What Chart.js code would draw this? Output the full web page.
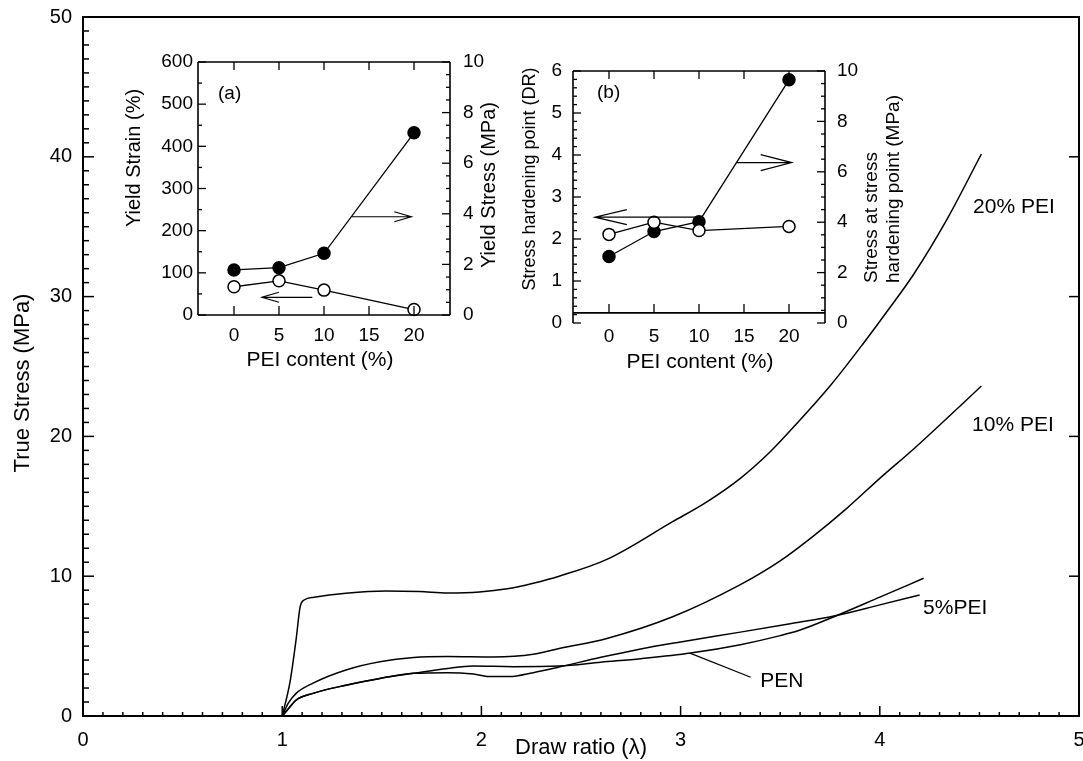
<!DOCTYPE html>
<html>
<head>
<meta charset="utf-8">
<script src="https://cdn.jsdelivr.net/npm/chart.js@4.4.0/dist/chart.umd.min.js"></script>
<style>
  body { margin: 0; background: #fff; }
  #wrap { position: relative; width: 1083px; height: 761px; }
  canvas { position: absolute; }
</style>
</head>
<body>
<div id="wrap">
  <canvas id="mainChart" width="1083" height="761" style="left:0;top:0;width:1083px;height:761px"></canvas>
  <canvas id="insetA" width="420" height="340" style="left:100px;top:40px;width:420px;height:340px"></canvas>
  <canvas id="insetB" width="420" height="340" style="left:510px;top:40px;width:420px;height:340px"></canvas>
</div>
<script>
var FONT = '"Liberation Sans", Arial, Helvetica, sans-serif';

// main chart: true stress vs draw ratio
var xTicks = [0, 1, 2, 3, 4, 5];
var yTicks = [0, 10, 20, 30, 40, 50];

var dr20 = [1.0, 1.04, 1.07, 1.09, 1.11, 1.16, 1.32, 1.52, 1.69, 1.83, 1.99, 2.13, 2.26, 2.39, 2.63, 2.96, 3.13, 3.30, 3.45, 3.55, 3.75, 3.92, 4.05, 4.17, 4.34, 4.51];
var st20 = [0, 2.5, 5.5, 7.8, 8.3, 8.5, 8.78, 8.94, 8.9, 8.8, 8.87, 9.1, 9.5, 10.0, 11.2, 13.9, 15.3, 17.0, 18.9, 20.4, 23.6, 26.7, 29.2, 31.6, 35.6, 40.2];

var dr10 = [1.0, 1.03, 1.07, 1.155, 1.32, 1.49, 1.66, 1.83, 2.06, 2.26, 2.39, 2.63, 2.96, 3.30, 3.5, 3.66, 3.83, 4.0, 4.17, 4.27, 4.51];
var st10 = [0, 0.9, 1.62, 2.35, 3.29, 3.88, 4.19, 4.26, 4.22, 4.41, 4.83, 5.55, 7.1, 9.4, 11.1, 12.8, 14.8, 17.0, 19.1, 20.4, 23.6];

var dr5 = [1.0, 1.03, 1.07, 1.155, 1.32, 1.49, 1.66, 1.83, 1.96, 2.04, 2.14, 2.26, 2.39, 2.6, 2.8, 3.0, 3.3, 3.55, 3.77, 4.0, 4.2];
var st5 = [0, 0.5, 1.14, 1.62, 2.2, 2.69, 3.05, 3.1, 3.0, 2.82, 2.82, 3.1, 3.5, 4.2, 4.8, 5.3, 6.0, 6.6, 7.15, 7.95, 8.66];

var drPen = [1.0, 1.03, 1.07, 1.155, 1.32, 1.49, 1.66, 1.83, 1.96, 2.16, 2.39, 2.6, 2.8, 3.05, 3.3, 3.5, 3.6, 3.77, 4.0, 4.22];
var stPen = [0, 0.5, 1.14, 1.62, 2.2, 2.69, 3.05, 3.4, 3.57, 3.53, 3.57, 3.85, 4.1, 4.5, 5.1, 5.75, 6.15, 7.1, 8.5, 9.85];

// insets
var peiTicks = [0, 5, 10, 15, 20];
var strainTicks = [0, 100, 200, 300, 400, 500, 600];
var yStressTicks = [0, 2, 4, 6, 8, 10];
var drTicks = [0, 1, 2, 3, 4, 5, 6];
var hStressTicks = [0, 2, 4, 6, 8, 10];

var peiContent = [0, 5, 10, 20];
var yieldStrain = [67, 81, 59, 13];
var yieldStress = [1.78, 1.87, 2.44, 7.2];
var hardeningDR = [2.11, 2.4, 2.2, 2.3];
var hardeningStress = [2.64, 3.63, 4.02, 9.65];

function pts(xs, ys) {
  return xs.map(function (v, i) { return { x: v, y: ys[i] }; });
}

function curve(label, xs, ys) {
  return {
    label: label,
    data: pts(xs, ys),
    borderColor: '#000',
    borderWidth: 1.5,
    pointRadius: 0,
    fill: false,
    cubicInterpolationMode: 'monotone'
  };
}

function fixTicks(list) {
  return function (s) { s.ticks = list.map(function (v) { return { value: v }; }); };
}

function line(ctx, x1, y1, x2, y2) {
  ctx.beginPath();
  ctx.moveTo(x1, y1);
  ctx.lineTo(x2, y2);
  ctx.stroke();
}

function arrow(ctx, x1, y, x2, headLen, headHalf) {
  var dir = x2 > x1 ? -1 : 1;
  ctx.beginPath();
  ctx.moveTo(x1, y);
  ctx.lineTo(x2, y);
  ctx.moveTo(x2 + dir * headLen, y - headHalf);
  ctx.lineTo(x2, y);
  ctx.lineTo(x2 + dir * headLen, y + headHalf);
  ctx.stroke();
}

function rotText(ctx, txt, x, y, size, align) {
  ctx.save();
  ctx.translate(x, y);
  ctx.rotate(-Math.PI / 2);
  ctx.font = size + 'px ' + FONT;
  ctx.textAlign = align || 'center';
  ctx.textBaseline = 'middle';
  ctx.fillText(txt, 0, 0);
  ctx.restore();
}

function text(ctx, txt, x, y, size, align) {
  ctx.font = size + 'px ' + FONT;
  ctx.textAlign = align || 'left';
  ctx.textBaseline = 'middle';
  ctx.fillText(txt, x, y);
}

var mainDecor = {
  id: 'mainDecor',
  afterDraw: function (chart) {
    var ctx = chart.ctx, a = chart.chartArea, sx = chart.scales.x, sy = chart.scales.y;
    ctx.save();
    ctx.strokeStyle = '#000';
    ctx.fillStyle = '#000';
    ctx.lineWidth = 2;
    ctx.strokeRect(a.left, a.top, a.right - a.left, a.bottom - a.top);
    ctx.lineWidth = 1.5;
    var i, p;
    for (i = 0; i <= 50; i++) {
      p = sx.getPixelForValue(i / 10);
      line(ctx, p, a.bottom, p, a.bottom - (i % 10 === 0 ? 10 : 4));
    }
    for (i = 0; i <= 50; i++) {
      p = sy.getPixelForValue(i);
      line(ctx, a.left, p, a.left + (i % 10 === 0 ? 11 : 6), p);
    }
    for (i = 10; i <= 40; i += 10) {
      p = sy.getPixelForValue(i);
      line(ctx, a.right, p, a.right - 10, p);
    }
    // curve labels
    text(ctx, '20% PEI', sx.getPixelForValue(4.468), sy.getPixelForValue(36.4), 21);
    text(ctx, '10% PEI', sx.getPixelForValue(4.463), sy.getPixelForValue(20.8), 21);
    text(ctx, '5%PEI', sx.getPixelForValue(4.217), sy.getPixelForValue(7.73), 21);
    text(ctx, 'PEN', sx.getPixelForValue(3.40), sy.getPixelForValue(2.5), 21);
    ctx.lineWidth = 1.2;
    line(ctx, sx.getPixelForValue(3.047), sy.getPixelForValue(4.5), sx.getPixelForValue(3.352), sy.getPixelForValue(2.77));
    rotText(ctx, 'True Stress (MPa)', 23, 383, 22);
    ctx.restore();
  }
};

new Chart(document.getElementById('mainChart'), {
  type: 'line',
  data: {
    datasets: [
      curve('20% PEI', dr20, st20),
      curve('10% PEI', dr10, st10),
      curve('5%PEI', dr5, st5),
      curve('PEN', drPen, stPen)
    ]
  },
  options: {
    responsive: false,
    animation: false,
    layout: { padding: { left: 0, right: 4, top: 17, bottom: 0 } },
    plugins: { legend: { display: false }, tooltip: { enabled: false } },
    scales: {
      x: {
        type: 'linear', min: 0, max: 5,
        afterBuildTicks: fixTicks(xTicks),
        afterFit: function (s) { s.height = 45; s.paddingLeft = 0; s.paddingRight = 0; },
        grid: { display: false, drawTicks: false },
        border: { display: false },
        ticks: { color: '#000', padding: 12, font: { family: FONT, size: 20 } },
        title: { display: true, text: 'Draw ratio (λ)', color: '#000', font: { family: FONT, size: 22 }, padding: { top: 0, bottom: 0 } }
      },
      y: {
        type: 'linear', min: 0, max: 50,
        afterBuildTicks: fixTicks(yTicks),
        afterFit: function (s) { s.width = 83; s.paddingTop = 0; s.paddingBottom = 0; },
        grid: { display: false, drawTicks: false },
        border: { display: false },
        ticks: { color: '#000', padding: 11, font: { family: FONT, size: 20 } }
      }
    }
  },
  plugins: [mainDecor]
});

// ---- insets ----
function insetDecor(cfg) {
  return {
    id: 'insetDecor',
    afterDraw: function (chart) {
      var ctx = chart.ctx, a = chart.chartArea;
      var sx = chart.scales.x, yl = chart.scales.yL, yr = chart.scales.yR;
      ctx.save();
      ctx.strokeStyle = '#000';
      ctx.fillStyle = '#000';
      ctx.lineWidth = 1.6;
      var base = yl.getPixelForValue(cfg.baseLine);
      line(ctx, a.left, a.top, a.right, a.top);
      line(ctx, a.left, a.top, a.left, a.bottom);
      line(ctx, a.right, a.top, a.right, a.bottom);
      line(ctx, a.left, base, a.right, base);
      ctx.lineWidth = 1.3;
      var i, v, p;
      for (i = 0; i * cfg.leftMinor <= cfg.leftMax + 1e-9; i++) {
        v = i * cfg.leftMinor;
        p = yl.getPixelForValue(v);
        var maj = Math.abs(v / cfg.leftMajor - Math.round(v / cfg.leftMajor)) < 1e-6;
        line(ctx, a.left, p, a.left + (maj ? 8 : 4), p);
      }
      for (i = 0; i * cfg.rightMinor <= cfg.rightMax + 1e-9; i++) {
        v = i * cfg.rightMinor;
        p = yr.getPixelForValue(v);
        var majR = Math.abs(v / cfg.rightMajor - Math.round(v / cfg.rightMajor)) < 1e-6;
        line(ctx, a.right, p, a.right - (majR ? 8 : 4), p);
      }
      peiTicks.forEach(function (t) {
        p = sx.getPixelForValue(t);
        line(ctx, p, a.top, p, a.top + 8);
        line(ctx, p, base, p, base - 9);
      });
      ctx.lineWidth = 1.2;
      cfg.arrows.forEach(function (ar) {
        var sc = ar.axis === 'R' ? yr : yl;
        arrow(ctx, sx.getPixelForValue(ar.from), sc.getPixelForValue(ar.y), sx.getPixelForValue(ar.to), ar.head[0], ar.head[1]);
      });
      text(ctx, cfg.tag, cfg.tagPos[0], cfg.tagPos[1], 19);
      cfg.titles.forEach(function (t) {
        if (t.rot) rotText(ctx, t.text, t.x, t.y, t.size, t.align);
        else text(ctx, t.text, t.x, t.y, t.size, 'center');
      });
      ctx.restore();
    }
  };
}

function markers(data, axis, filled) {
  return {
    data: data,
    yAxisID: axis,
    borderColor: '#000',
    borderWidth: 1.3,
    pointRadius: 6,
    pointBorderWidth: 1.5,
    pointBorderColor: '#000',
    pointBackgroundColor: filled ? '#000' : '#fff',
    tension: 0,
    fill: false,
    clip: false
  };
}

function insetScale(ticks, min, max, pos, width, pad) {
  return {
    type: 'linear', position: pos, min: min, max: max,
    afterBuildTicks: fixTicks(ticks),
    afterFit: function (s) { s.width = width; s.paddingTop = 0; s.paddingBottom = 0; },
    grid: { display: false, drawTicks: false },
    border: { display: false },
    ticks: { color: '#000', padding: pad, font: { family: FONT, size: 19 } }
  };
}

function xInset(pad, height) {
  return {
    type: 'linear', min: -4, max: 24,
    afterBuildTicks: fixTicks(peiTicks),
    afterFit: function (s) { s.height = height; s.paddingLeft = 0; s.paddingRight = 0; },
    grid: { display: false, drawTicks: false },
    border: { display: false },
    ticks: { color: '#000', padding: pad, font: { family: FONT, size: 19 } }
  };
}

// inset (a): chart area page x 198..450, y 62..315
new Chart(document.getElementById('insetA'), {
  type: 'line',
  data: {
    datasets: [
      markers(pts(peiContent, yieldStrain), 'yL', false),
      markers(pts(peiContent, yieldStress), 'yR', true)
    ]
  },
  options: {
    responsive: false,
    animation: false,
    layout: { padding: { left: 0, right: 0, top: 22, bottom: 0 } },
    plugins: { legend: { display: false }, tooltip: { enabled: false } },
    scales: {
      x: xInset(9, 65),
      yL: insetScale(strainTicks, 0, 600, 'left', 98, 5),
      yR: insetScale(yStressTicks, 0, 10, 'right', 70, 13)
    }
  },
  plugins: [insetDecor({
    baseLine: 0,
    leftMax: 600, leftMinor: 50, leftMajor: 100,
    rightMax: 10, rightMinor: 0.5, rightMajor: 2,
    arrows: [
      { axis: 'L', y: 233, from: 13.1, to: 19.7, head: [17, 5] },
      { axis: 'L', y: 42, from: 8.7, to: 3.1, head: [17, 5] }
    ],
    tag: '(a)', tagPos: [118, 54],
    titles: [
      { text: 'Yield Strain (%)', x: 34, y: 118, size: 20, rot: true },
      { text: 'Yield Stress (MPa)', x: 389, y: 145, size: 20, rot: true },
      { text: 'PEI content (%)', x: 220, y: 320, size: 21 }
    ]
  })]
});

// inset (b): chart area page x 573..825, y 71..323
new Chart(document.getElementById('insetB'), {
  type: 'line',
  data: {
    datasets: [
      markers(pts(peiContent, hardeningDR), 'yL', false),
      markers(pts(peiContent, hardeningStress), 'yR', true)
    ]
  },
  options: {
    responsive: false,
    animation: false,
    layout: { padding: { left: 0, right: 0, top: 31, bottom: 0 } },
    plugins: { legend: { display: false }, tooltip: { enabled: false } },
    scales: {
      x: xInset(2, 57),
      yL: insetScale(drTicks, 0, 6, 'left', 63, 11),
      yR: insetScale(hStressTicks, 0, 10, 'right', 105, 12)
    }
  },
  plugins: [insetDecor({
    baseLine: 0.24,
    leftMax: 6, leftMinor: 0.2, leftMajor: 1,
    rightMax: 10, rightMinor: 0.5, rightMajor: 2,
    arrows: [
      { axis: 'L', y: 3.82, from: 14.15, to: 20.3, head: [31, 8] },
      { axis: 'L', y: 2.52, from: 9.7, to: -1.57, head: [32, 7.5] }
    ],
    tag: '(b)', tagPos: [87, 53],
    titles: [
      { text: 'Stress hardening point (DR)', x: 20, y: 139, size: 18, rot: true },
      { text: 'Stress at stress', x: 362, y: 243, size: 19, rot: true, align: 'left' },
      { text: 'hardening point (MPa)', x: 384, y: 243, size: 19, rot: true, align: 'left' },
      { text: 'PEI content (%)', x: 190, y: 322, size: 21 }
    ]
  })]
});
</script>
</body>
</html>
